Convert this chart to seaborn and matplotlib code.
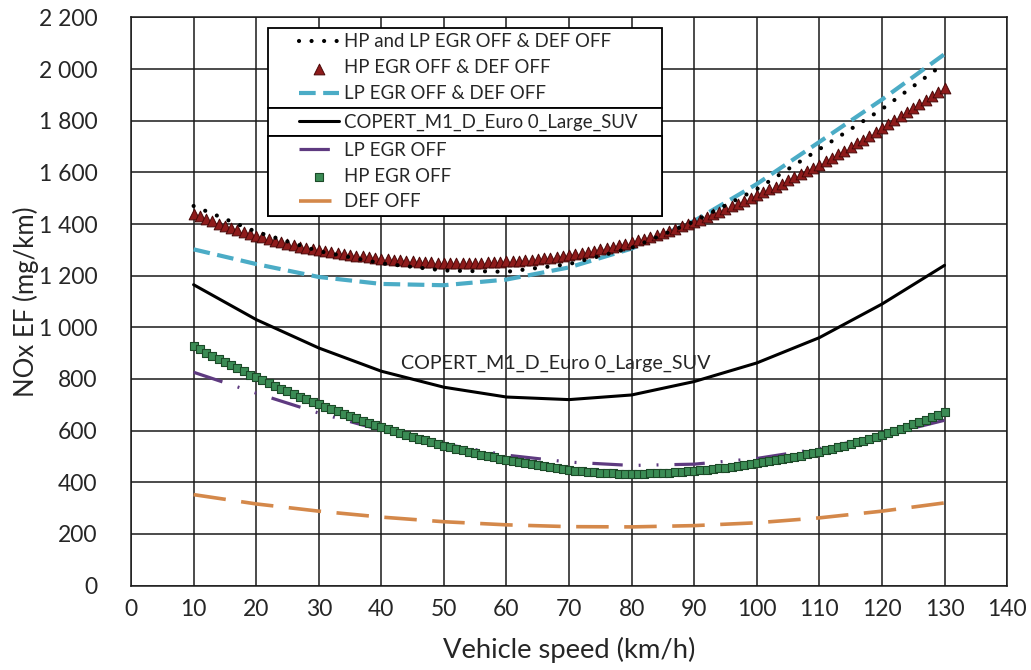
import numpy as np
import matplotlib
matplotlib.use("Agg")
import matplotlib.pyplot as plt
import seaborn as sns
from matplotlib.ticker import MultipleLocator, FuncFormatter
from matplotlib.lines import Line2D
from matplotlib.collections import PathCollection
from matplotlib.legend_handler import HandlerLine2D, HandlerPathCollection

# --- data ---
speed = [10, 20, 30, 40, 50, 60, 70, 80, 90, 100, 110, 120, 130]
speed_fine = list(range(10, 131))   # the marker series have one point per km/h

hp_lp_egr_def_off = [1470, 1370, 1295, 1248, 1220, 1215, 1245, 1308, 1410, 1535, 1690, 1845, 2022]
lp_egr_def_off = [1302, 1245, 1195, 1168, 1163, 1185, 1232, 1305, 1412, 1555, 1718, 1882, 2058]
copert = [1165, 1030, 920, 830, 768, 730, 720, 738, 790, 862, 960, 1090, 1240]
lp_egr_off = [826, 745, 668, 602, 548, 505, 478, 465, 470, 492, 530, 580, 640]
def_off = [352, 316, 288, 265, 247, 235, 228, 227, 232, 243, 262, 288, 320]

hp_egr_def_off = [
    1440, 1430, 1421, 1411, 1402, 1394, 1385, 1377, 1369, 1362,
    1355, 1348, 1342, 1335, 1329, 1324, 1318, 1313, 1308, 1304,
    1300, 1296, 1292, 1288, 1285, 1281, 1278, 1275, 1272, 1268,
    1265, 1263, 1261, 1259, 1257, 1255, 1254, 1253, 1252, 1251,
    1250, 1250, 1250, 1250, 1250, 1250, 1251, 1252, 1253, 1254,
    1255, 1257, 1258, 1260, 1262, 1265, 1267, 1270, 1273, 1277,
    1280, 1284, 1288, 1292, 1297, 1302, 1307, 1312, 1318, 1324,
    1330, 1337, 1344, 1351, 1359, 1366, 1374, 1382, 1391, 1399,
    1408, 1417, 1427, 1437, 1447, 1457, 1468, 1478, 1489, 1501,
    1512, 1523, 1534, 1545, 1557, 1569, 1581, 1593, 1605, 1618,
    1630, 1643, 1656, 1670, 1684, 1698, 1712, 1727, 1742, 1757,
    1772, 1787, 1802, 1817, 1833, 1848, 1864, 1880, 1896, 1912,
    1928]

hp_egr_off = [
    928, 915, 902, 890, 877, 865, 853, 841, 829, 817,
    806, 795, 784, 773, 763, 752, 742, 732, 722, 712,
    702, 692, 683, 674, 665, 656, 647, 639, 630, 622,
    614, 606, 598, 591, 583, 576, 569, 562, 555, 549,
    542, 536, 530, 524, 518, 512, 507, 501, 496, 491,
    486, 481, 477, 473, 469, 465, 461, 458, 454, 451,
    448, 445, 442, 440, 438, 436, 435, 434, 433, 432,
    432, 432, 433, 434, 435, 436, 437, 439, 440, 442,
    444, 446, 448, 451, 454, 457, 460, 463, 467, 470,
    474, 478, 481, 485, 490, 494, 499, 503, 508, 513,
    518, 523, 529, 535, 541, 547, 554, 560, 567, 575,
    582, 590, 598, 606, 615, 624, 633, 642, 651, 661,
    671]

labels = {
    'dots': 'HP and LP EGR OFF & DEF OFF',
    'tri': 'HP EGR OFF & DEF OFF',
    'cyan': 'LP EGR OFF & DEF OFF',
    'copert': 'COPERT_M1_D_Euro 0_Large_SUV',
    'purple': 'LP EGR OFF',
    'sq': 'HP EGR OFF',
    'orange': 'DEF OFF',
}

# Set style
sns.set_style("white")
plt.rcParams['font.family'] = ['Lato', 'DejaVu Sans']

fig = plt.figure(figsize=(10.31, 6.70), dpi=100)
ax = fig.add_axes([0.1271, 0.1261, 0.8497, 0.8478])

# lines
sns.lineplot(x=speed, y=copert, ax=ax, color='black', linewidth=2.2,
             label=labels['copert'], zorder=3)
sns.lineplot(x=speed, y=def_off, ax=ax, color='#D4884A', linewidth=2.6,
             linestyle=(0, (9, 4.3)), label=labels['orange'], zorder=3)
sns.lineplot(x=speed, y=lp_egr_off, ax=ax, color='#5E3A80', linewidth=2.3,
             linestyle=(0, (9.5, 5, 0.6, 5, 0.6, 5)), label=labels['purple'], zorder=3)
sns.lineplot(x=speed, y=lp_egr_def_off, ax=ax, color='#4BACC6', linewidth=3.0,
             linestyle=(0, (4, 1.8)), label=labels['cyan'], zorder=3)

# markers
sns.scatterplot(x=speed_fine, y=hp_egr_off, ax=ax, marker='s', s=40,
                color='#3B8C55', edgecolor='#1C4A28', linewidth=0.8,
                label=labels['sq'], zorder=4)
sns.scatterplot(x=speed_fine, y=hp_egr_def_off, ax=ax, marker='^', s=60,
                color='#8E1B1B', edgecolor='#4A0808', linewidth=0.7,
                label=labels['tri'], zorder=4)

sns.lineplot(x=speed, y=hp_lp_egr_def_off, ax=ax, color='black', linewidth=3.0,
             linestyle=(0, (0.01, 3.0)), dash_capstyle='round',
             label=labels['dots'], zorder=5)

ax.text(67.8, 862, labels['copert'], ha='center', va='center', fontsize=14.2, zorder=6)

# axes styling
ax.set_xlim(0, 140)
ax.set_ylim(0, 2200)
ax.xaxis.set_major_locator(MultipleLocator(10))
ax.yaxis.set_major_locator(MultipleLocator(200))
ax.yaxis.set_major_formatter(FuncFormatter(lambda v, _: f"{int(v):,}".replace(",", " ")))
ax.grid(True, color='#1a1a1a', linewidth=1.1)
ax.set_axisbelow(True)
for sp in ax.spines.values():
    sp.set_color('#1a1a1a')
    sp.set_linewidth(1.1)
ax.tick_params(axis='both', length=0, labelsize=16.5)
ax.tick_params(axis='y', pad=24)
ax.tick_params(axis='x', pad=10)
ax.set_xlabel('Vehicle speed (km/h)', fontsize=19.7, labelpad=12)
ax.set_ylabel('NOx EF (mg/km)', fontsize=18.5, labelpad=0)

# legend: three stacked boxes like the original
handles, labs = ax.get_legend_handles_labels()
hd = dict(zip(labs, handles))
groups = [
    [labels['dots'], labels['tri'], labels['cyan']],
    [labels['copert']],
    [labels['purple'], labels['sq'], labels['orange']],
]
xpad = 1.39
hmap = {Line2D: HandlerLine2D(xpad=xpad), PathCollection: HandlerPathCollection(xpad=xpad)}
x0, w = 0.1564, 0.4498
top = 0.9815
leg_kw = dict(loc='upper left', mode='expand', borderaxespad=0, frameon=True,
              fancybox=False, fontsize=13.4, labelspacing=0.48, handlelength=3.52,
              handletextpad=0.27, borderpad=0.295, edgecolor='black', framealpha=1,
              handler_map=hmap)
for grp in groups:
    leg = ax.legend([hd[k] for k in grp], grp, bbox_to_anchor=(x0, top, w, 0), **leg_kw)
    leg.get_frame().set_linewidth(1.3)
    leg.set_zorder(10)
    ax.add_artist(leg)
    fig.canvas.draw()
    bb = leg.get_window_extent().transformed(ax.transAxes.inverted())
    top = bb.y0

fig.savefig('out.png', dpi=100)
